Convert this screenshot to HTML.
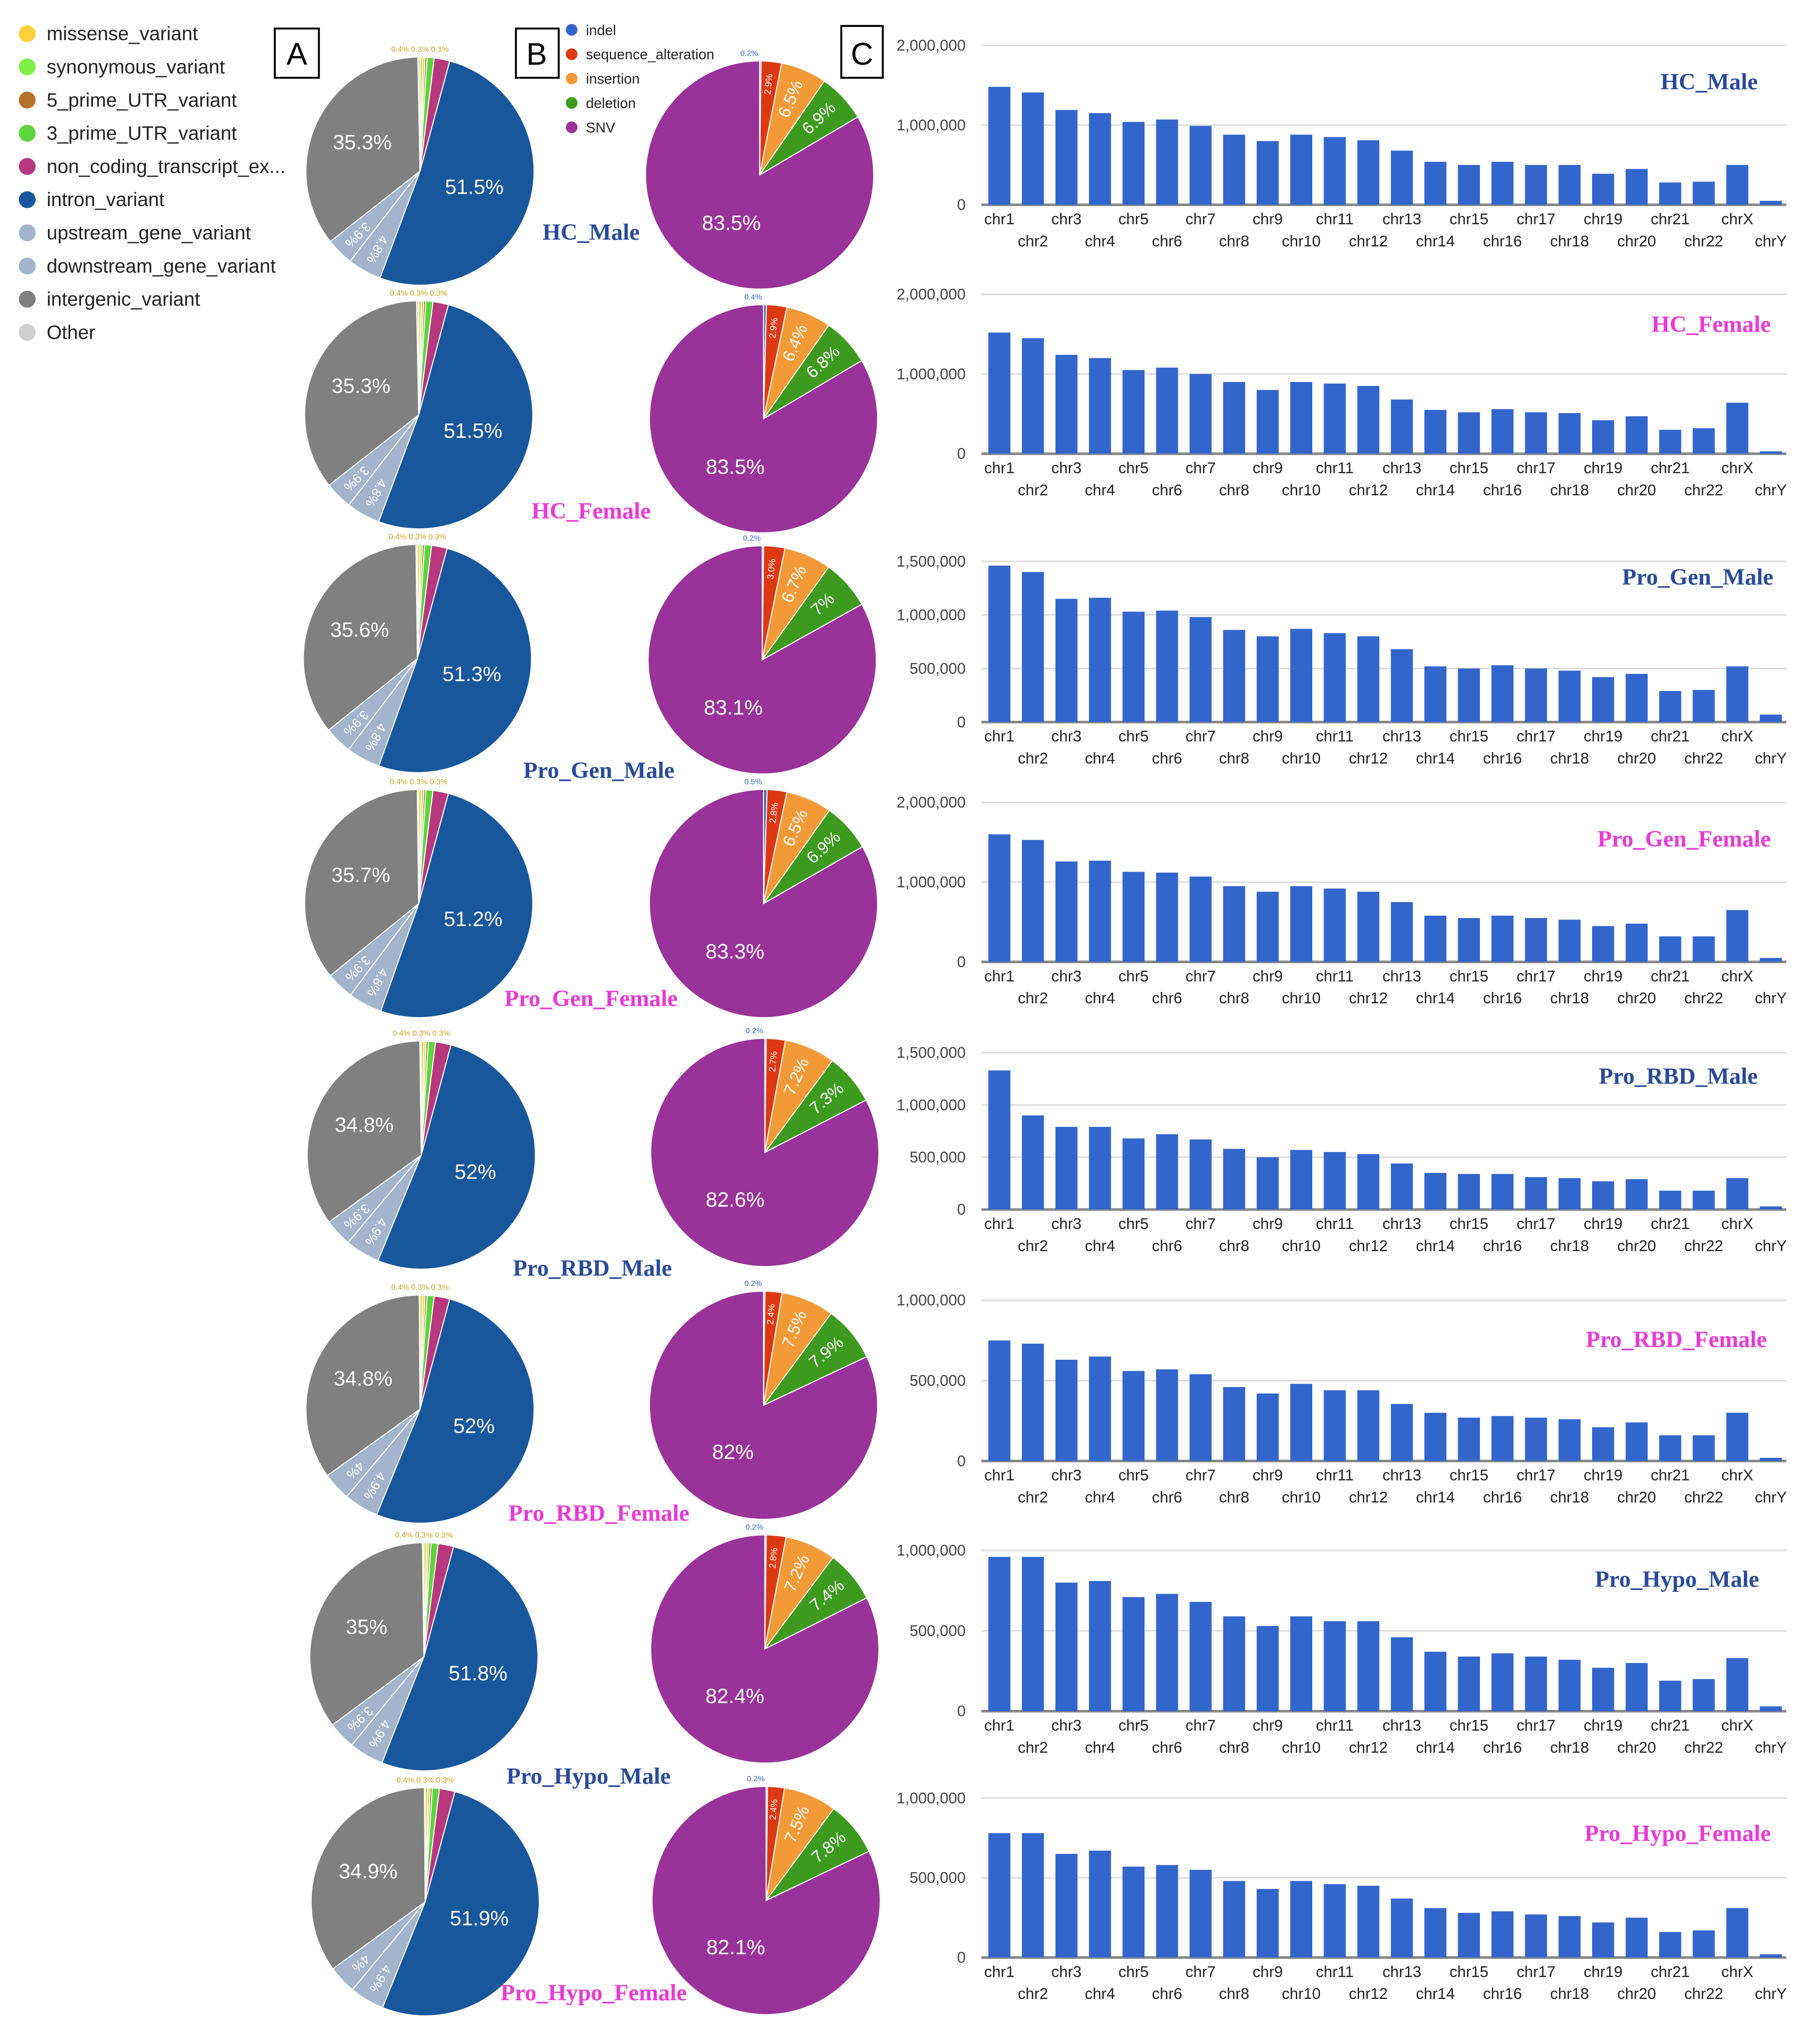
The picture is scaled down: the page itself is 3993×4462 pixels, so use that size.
<!DOCTYPE html>
<html><head><meta charset="utf-8"><style>
html,body{margin:0;padding:0;background:#fff;}
svg{display:block;}
text{font-family:"Liberation Sans",sans-serif;}
</style></head><body>
<svg id="fig" width="3993" height="4462" viewBox="0 0 1404 1569" preserveAspectRatio="none" xmlns="http://www.w3.org/2000/svg">
<g id="legA"></g>
<g id="legB"></g>
<g id="pies"></g>
<g id="bars"></g>
<rect x="212" y="22" width="34" height="38" fill="#fff" stroke="#000" stroke-width="1.5"/>
<text x="229" y="50" font-size="24" text-anchor="middle">A</text>
<rect x="398" y="22" width="33" height="38" fill="#fff" stroke="#000" stroke-width="1.5"/>
<text x="414" y="50" font-size="24" text-anchor="middle">B</text>
<rect x="649" y="20" width="32" height="40" fill="#fff" stroke="#000" stroke-width="1.5"/>
<text x="665" y="50" font-size="24" text-anchor="middle">C</text>
</svg>
<script>
const NS="http://www.w3.org/2000/svg";
const samples=["HC_Male","HC_Female","Pro_Gen_Male","Pro_Gen_Female","Pro_RBD_Male","Pro_RBD_Female","Pro_Hypo_Male","Pro_Hypo_Female"];
const legendA=["missense_variant","synonymous_variant","5_prime_UTR_variant","3_prime_UTR_variant","non_coding_transcript_ex...","intron_variant","upstream_gene_variant","downstream_gene_variant","intergenic_variant","Other"];
const legendB=["indel","sequence_alteration","insertion","deletion","SNV"];
const intron=[51.5,51.5,51.3,51.2,52,52,51.8,51.9];
const intergenic=[35.3,35.3,35.6,35.7,34.8,34.8,35,34.9];
const upstream=[4.8,4.8,4.8,4.8,4.9,4.9,4.9,4.9];
const downstream=[3.9,3.9,3.9,3.9,3.9,4,3.9,4];
const smallA=[0.4,0.3,0.3,1.0,2.2];
const indel=[0.2,0.4,0.2,0.5,0.2,0.2,0.2,0.2];
const insertion=[6.5,6.4,6.7,6.5,7.2,7.5,7.2,7.5];
const deletion=[6.9,6.8,7,6.9,7.3,7.9,7.4,7.8];
const snv=[83.5,83.5,83.1,83.3,82.6,82,82.4,82.1];
const chroms=["chr1","chr2","chr3","chr4","chr5","chr6","chr7","chr8","chr9","chr10","chr11","chr12","chr13","chr14","chr15","chr16","chr17","chr18","chr19","chr20","chr21","chr22","chrX","chrY"];
const v_HC_Male=[1.48,1.41,1.19,1.15,1.04,1.07,0.99,0.88,0.80,0.88,0.85,0.81,0.68,0.54,0.50,0.54,0.50,0.50,0.39,0.45,0.28,0.29,0.50,0.05];
const v_HC_Female=[1.52,1.45,1.24,1.20,1.05,1.08,1.00,0.90,0.80,0.90,0.88,0.85,0.68,0.55,0.52,0.56,0.52,0.51,0.42,0.47,0.30,0.32,0.64,0.03];
const v_Pro_Gen_Male=[1.46,1.40,1.15,1.16,1.03,1.04,0.98,0.86,0.80,0.87,0.83,0.80,0.68,0.52,0.50,0.53,0.50,0.48,0.42,0.45,0.29,0.30,0.52,0.07];
const v_Pro_Gen_Female=[1.60,1.53,1.26,1.27,1.13,1.12,1.07,0.95,0.88,0.95,0.92,0.88,0.75,0.58,0.55,0.58,0.55,0.53,0.45,0.48,0.32,0.32,0.65,0.05];
const v_Pro_RBD_Male=[1.33,0.90,0.79,0.79,0.68,0.72,0.67,0.58,0.50,0.57,0.55,0.53,0.44,0.35,0.34,0.34,0.31,0.30,0.27,0.29,0.18,0.18,0.30,0.03];
const v_Pro_RBD_Female=[0.75,0.73,0.63,0.65,0.56,0.57,0.54,0.46,0.42,0.48,0.44,0.44,0.355,0.30,0.27,0.28,0.27,0.26,0.21,0.24,0.16,0.16,0.30,0.02];
const v_Pro_Hypo_Male=[0.96,0.96,0.80,0.81,0.71,0.73,0.68,0.59,0.53,0.59,0.56,0.56,0.46,0.37,0.34,0.36,0.34,0.32,0.27,0.30,0.19,0.20,0.33,0.03];
const v_Pro_Hypo_Female=[0.78,0.78,0.65,0.67,0.57,0.58,0.55,0.48,0.43,0.48,0.46,0.45,0.37,0.31,0.28,0.29,0.27,0.26,0.22,0.25,0.16,0.17,0.31,0.02];
const barValues=[v_HC_Male,v_HC_Female,v_Pro_Gen_Male,v_Pro_Gen_Female,v_Pro_RBD_Male,v_Pro_RBD_Female,v_Pro_Hypo_Male,v_Pro_Hypo_Female];
const axisMax=[2,2,1.5,2,1.5,1,1,1];
const axisStep=[1,1,0.5,1,0.5,0.5,0.5,0.5];

const colA=["#fbd13a","#7eef4a","#b8712d","#5dd43b","#b7387f","#18579b","#a3b5cc","#a3b5cc","#808080","#cfcfcf"];
const colB=["#3366cc","#dc3912","#f29a38","#3d9a1f","#993399"];
function mk(tag,attrs,parent){const e=document.createElementNS(NS,tag);for(const k in attrs)e.setAttribute(k,attrs[k]);parent.appendChild(e);return e;}

const legA=document.getElementById('legA');
legendA.forEach((t,i)=>{
  const y=26+i*25.6;
  const c=mk('circle',{cx:21,cy:y,r:6.5,fill:colA[i]},legA);
  
  
  const tx=mk('text',{x:36,y:y+5,'font-size':15,fill:'#222'},legA);tx.textContent=t;
  
  
});
const legB=document.getElementById('legB');
legendB.forEach((t,i)=>{
  const y=23+i*18.8;
  const c=mk('circle',{cx:441,cy:y,r:4.5,fill:colB[i]},legB);
  
  
  const tx=mk('text',{x:452,y:y+4,'font-size':11,fill:'#222'},legB);tx.textContent=t;
  
  
});

const pieA=[[324,132],[323,320],[322,508],[323,697],[325,891],[324,1087],[327,1278],[328,1467]];
const pieB=[[586,135],[589,323],[588,509],[589,697],[590,889],[589,1084],[590,1272],[591,1466]];
const R=88;
const titleY=[185,400,600,776,984,1173,1376,1543];
const titleX=[456,456,462,456,457,462,454,458];
const pies=document.getElementById('pies');
function pt(cx,cy,r,a){return [cx+r*Math.sin(a),cy-r*Math.cos(a)];}
function drawPie(cx,cy,vals,cols,labels,name){
  const g=mk('g',{},pies);
  
  
  const tot=vals.reduce((a,b)=>a+b,0);let a0=0;
  vals.forEach((v,i)=>{
    const a1=a0+v/tot*2*Math.PI;
    const p0=pt(cx,cy,R,a0),p1=pt(cx,cy,R,a1);
    const p=mk('path',{d:`M${cx},${cy}L${p0[0]},${p0[1]}A${R},${R} 0 ${a1-a0>Math.PI?1:0} 1 ${p1[0]},${p1[1]}Z`,fill:cols[i],stroke:'#fff','stroke-width':0.8},g);
    
    
    const L=labels[i];
    if(L){
      const am=(a0+a1)/2;const q=pt(cx,cy,R*L.r,am);
      const t=mk('text',{x:q[0],y:q[1],'font-size':L.fs,fill:'#fff','text-anchor':'middle','dominant-baseline':'middle'},g);
      if(L.rot){let deg=am*180/Math.PI-90;t.setAttribute('transform',`rotate(${deg} ${q[0]} ${q[1]})`);}
      t.textContent=L.t;
      
      
    }
    a0=a1;
  });
}
for(let i=0;i<8;i++){
  const va=[...smallA,intron[i],upstream[i],downstream[i],intergenic[i]];
  const sum=va.reduce((a,b)=>a+b,0);va.push(Math.max(0,100-sum));
  const la=[null,null,null,null,null,{t:intron[i]+'%',r:0.5,fs:16},{t:upstream[i]+'%',r:0.78,fs:10,rot:1},{t:downstream[i]+'%',r:0.78,fs:10,rot:1},{t:intergenic[i]+'%',r:0.56,fs:16},null];
  drawPie(pieA[i][0],pieA[i][1],va,colA,la,'variant-pie-'+samples[i].toLowerCase().replace(/_/g,'-'));
  const seq=Math.max(0,100-snv[i]-insertion[i]-deletion[i]-indel[i]);
  const vb=[indel[i],seq,insertion[i],deletion[i],snv[i]];
  const lb=[null,{t:seq.toFixed(1)+'%',r:0.8,fs:7,rot:1},{t:insertion[i]+'%',r:0.72,fs:13,rot:1},{t:deletion[i]+'%',r:0.72,fs:13,rot:1},{t:snv[i]+'%',r:0.5,fs:16}];
  drawPie(pieB[i][0],pieB[i][1],vb,colB,lb,'type-pie-'+samples[i].toLowerCase().replace(/_/g,'-'));
  // small top labels
  const tl=mk('text',{x:pieA[i][0],y:pieA[i][1]-R-4,'font-size':6,fill:'#c9a21a','text-anchor':'middle'},pies);
  tl.textContent='0.4% 0.3% 0.3%';
  
  
  const tb=mk('text',{x:pieB[i][0]-8,y:pieB[i][1]-R-4,'font-size':6,fill:'#3366cc','text-anchor':'middle'},pies);
  tb.textContent=indel[i]+'%';
  
  
  const female=samples[i].indexOf('Female')>=0;
  const tt=mk('text',{x:titleX[i],y:titleY[i],'font-size':18,'font-weight':'bold','font-family':'Liberation Serif, serif',fill:female?'#e83ad6':'#2a4a9a','text-anchor':'middle',style:'font-family:"Liberation Serif",serif'},pies);
  tt.textContent=samples[i];
  
  
}

// bar charts
const zeroY=[158,350,557,742,933,1127,1320,1510];
const topY=[35,227,433,619,812,1003,1196,1387];
const btitleY=[69,256,451,653,836,1039,1224,1420];
const btitleX=[1356,1366,1368,1366,1356,1363,1357,1366];
const bars=document.getElementById('bars');
const x0=757,x1=1378;
const step=(x1-x0)/24;
function fmt(v){return Math.round(v*1e6).toLocaleString('en-US');}
for(let c=0;c<8;c++){
  const g=mk('g',{},bars);
  
  
  const y0=zeroY[c],yt=topY[c],mx=axisMax[c];
  const yS=v=>y0-(v/mx)*(y0-yt);
  for(let t=0;t<=mx+1e-9;t+=axisStep[c]){
    const y=yS(t);
    const gl=mk('line',{x1:x0,x2:x1,y1:y,y2:y,stroke:t===0?'#888':'#ddd','stroke-width':t===0?2:1.2},g);
    
    
    const tl=mk('text',{x:745,y:y+4,'font-size':12,fill:'#444','text-anchor':'end'},g);
    tl.textContent=fmt(t);
    
    
  }
  barValues[c].forEach((v,i)=>{
    const cx=x0+step*(i+0.5)+1;
    const r=mk('rect',{x:cx-8.5,y:yS(v),width:17,height:y0-yS(v),fill:'#3366cc'},g);
    
    
    const lbl=mk('text',{x:cx,y:y0+(i%2===0?15:32),'font-size':12,fill:'#222','text-anchor':'middle'},g);
    lbl.textContent=chroms[i];
    
    
  });
  const female=samples[c].indexOf('Female')>=0;
  const tt=mk('text',{x:btitleX[c],y:btitleY[c],'font-size':18,'font-weight':'bold',fill:female?'#e83ad6':'#2a4a9a','text-anchor':'end',style:'font-family:"Liberation Serif",serif'},g);
  tt.textContent=samples[c];
  
  
}
</script>
</body></html>
